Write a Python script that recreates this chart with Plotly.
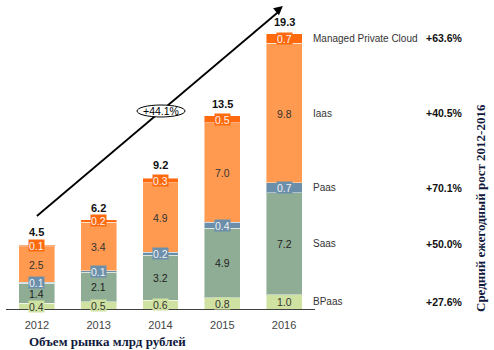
import plotly.graph_objects as go

years = ["2012", "2013", "2014", "2015", "2016"]
series_names = ["BPaas", "Saas", "Paas", "Iaas", "Managed Private Cloud"]
bpaas = [0.4, 0.5, 0.6, 0.8, 1.0]
saas = [1.4, 2.1, 3.2, 4.9, 7.2]
paas = [0.1, 0.1, 0.2, 0.4, 0.7]
iaas = [2.5, 3.4, 4.9, 7.0, 9.8]
mpc = [0.1, 0.2, 0.3, 0.5, 0.7]
totals = [4.5, 6.2, 9.2, 13.5, 19.3]
growth = ["+27.6%", "+50.0%", "+70.1%", "+40.5%", "+63.6%"]
cagr_label = "+44.1%"

series = [bpaas, saas, paas, iaas, mpc]
colors = ["#cfe2a1", "#8fad94", "#6b8fab", "#ff9a50", "#ff6a0e"]
text_colors = ["#333333", "#222222", "#f2f2f2", "#333333", "#f5f5f5"]

PX_PER_UNIT = 14.2
PLOT_H = 309
W, H = 494, 350
L, R, T, B = 6, 179, 0, 41
PLOT_W = W - L - R

fig = go.Figure()
for name, vals, col in zip(series_names, series, colors):
    fig.add_trace(go.Bar(
        x=years, y=vals, name=name, marker=dict(color=col, line=dict(color="rgba(255,255,255,0.45)", width=1)),
        showlegend=False, hoverinfo="skip"))

annotations = []
# segment labels
for xi, yr in enumerate(years):
    cum = 0.0
    for si, vals in enumerate(series):
        v = vals[xi]
        mid = cum + v / 2
        cum += v
        annotations.append(dict(
            x=xi, y=mid, xref="x", yref="y", text=f"{v:.1f}", showarrow=False,
            font=dict(family="Liberation Sans, Arial", size=10.5, color=text_colors[si]),
            bgcolor=colors[si], borderpad=0, height=11, xanchor="center", yanchor="middle"))
    annotations.append(dict(
        x=xi, y=totals[xi], xref="x", yref="y", text=f"<b>{totals[xi]}</b>", showarrow=False,
        font=dict(family="Liberation Sans, Arial", size=11, color="#111111"),
        xanchor="center", yanchor="bottom", yshift=5))

# right side labels at 2016 segment mids
cum = 0.0
for si, vals in enumerate(series):
    v = vals[-1]
    mid = cum + v / 2
    cum += v
    annotations.append(dict(
        x=(311 - L) / PLOT_W, y=mid, xref="paper", yref="y", text=series_names[si],
        showarrow=False, xanchor="left", yanchor="middle",
        font=dict(family="Liberation Sans, Arial", size=10, color="#333333")))
    annotations.append(dict(
        x=(465 - L) / PLOT_W, y=mid, xref="paper", yref="y", text=f"<b>{growth[si]}</b>",
        showarrow=False, xanchor="right", yanchor="middle",
        font=dict(family="Liberation Sans, Arial", size=10.5, color="#111111")))

# arrow head
annotations.append(dict(
    x=3.98, y=21.34, xref="x", yref="y", ax=-8, ay=6.8, axref="pixel", ayref="pixel",
    text="", showarrow=True, arrowhead=2, arrowsize=1, arrowwidth=1.8, arrowcolor="#000000"))

# CAGR label
annotations.append(dict(
    x=(161 - L) / PLOT_W, y=(PLOT_H - 111) / PLOT_H, xref="paper", yref="paper",
    text=cagr_label, showarrow=False, xanchor="center", yanchor="middle",
    font=dict(family="Liberation Sans, Arial", size=10.5, color="#000000")))

# vertical title
annotations.append(dict(
    x=(480 - L) / PLOT_W, y=(PLOT_H - 208) / PLOT_H, xref="paper", yref="paper",
    text="<b>Средний ежегодный рост 2012-2016</b>", textangle=-90, showarrow=False,
    xanchor="center", yanchor="middle",
    font=dict(family="Liberation Serif, Times New Roman", size=13, color="#10183c")))

# bottom title
annotations.append(dict(
    x=(27 - L) / PLOT_W, y=(PLOT_H - 341) / PLOT_H, xref="paper", yref="paper",
    text="<b>Объем рынка млрд рублей</b>", showarrow=False, xanchor="left", yanchor="middle",
    font=dict(family="Liberation Serif, Times New Roman", size=13, color="#10183c")))

shapes = [
    dict(type="line", xref="x", yref="y", x0=0, y0=6.55, x1=3.93, y1=21.0,
         line=dict(color="#000000", width=1.8), layer="above"),
    dict(type="circle", xref="paper", yref="paper",
         x0=(137 - L) / PLOT_W, x1=(185 - L) / PLOT_W,
         y0=(PLOT_H - 117) / PLOT_H, y1=(PLOT_H - 105) / PLOT_H,
         fillcolor="#ffffff", line=dict(color="#000000", width=1), layer="above"),
]

fig.update_layout(
    barmode="stack", bargap=0.42,
    width=W, height=H, margin=dict(l=L, r=R, t=T, b=B),
    paper_bgcolor="#ffffff", plot_bgcolor="#ffffff",
    annotations=annotations, shapes=shapes,
    xaxis=dict(type="category", range=[-0.5, 4.5], showline=True, linecolor="#404040", linewidth=1,
               ticks="", showgrid=False, zeroline=False, ticklabelstandoff=6,
               tickfont=dict(family="Liberation Sans, Arial", size=11, color="#444444")),
    yaxis=dict(range=[0, PLOT_H / PX_PER_UNIT], visible=False, showgrid=False, zeroline=False),
)

fig.write_html("out.html")
